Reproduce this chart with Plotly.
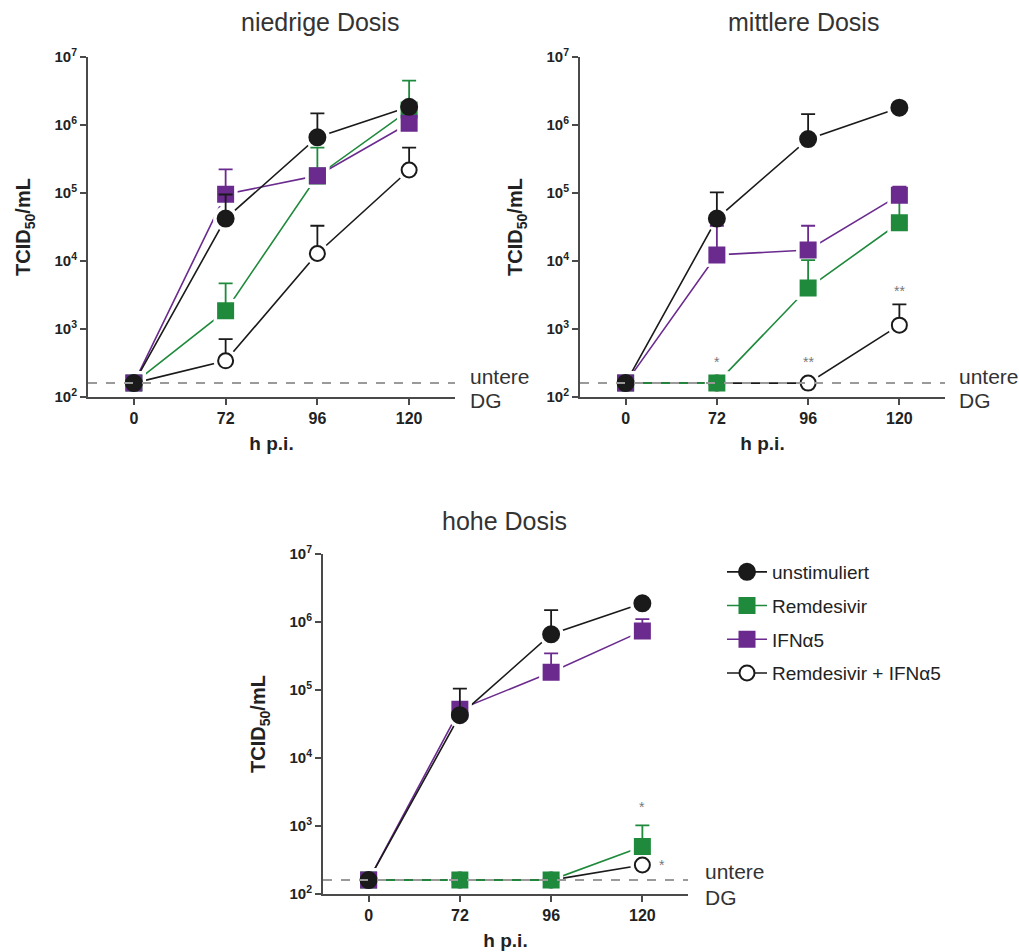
import math
import plotly.graph_objects as go

# ---- data -------------------------------------------------------------
hours = ["0", "72", "96", "120"]
pos = [0, 1, 2, 3]
lod = 160  # lower detection limit (untere DG)

series_names = ["unstimuliert", "Remdesivir", "IFNα5", "Remdesivir + IFNα5"]

# niedrige Dosis: mean values and upper SD bounds (None = no bar)
low_unstim = [160, 42000, 660000, 1850000]
low_unstim_up = [None, 95000, 1480000, None]
low_rem = [160, 1850, 178000, 1660000]
low_rem_up = [None, 4700, 465000, 4500000]
low_ifn = [160, 96000, 180000, 1060000]
low_ifn_up = [None, 223000, None, None]
low_combo = [160, 340, 12900, 218000]
low_combo_up = [None, 712, 33000, 465000]

# mittlere Dosis
mid_unstim = [160, 42000, 620000, 1800000]
mid_unstim_up = [None, 102000, 1450000, None]
mid_rem = [160, 160, 4000, 36500]
mid_rem_up = [None, None, 10300, 80000]
mid_ifn = [160, 12300, 14500, 93000]
mid_ifn_up = [None, 33000, 33000, 124000]
mid_combo = [160, 160, 160, 1140]
mid_combo_up = [None, None, None, 2300]

# hohe Dosis
high_unstim = [160, 42700, 660000, 1880000]
high_unstim_up = [None, 105000, 1500000, None]
high_rem = [160, 160, 160, 500]
high_rem_up = [None, None, None, 1020]
high_ifn = [160, 52000, 182000, 740000]
high_ifn_up = [None, None, 345000, 1100000]
high_combo = [160, 160, 160, 267]
high_combo_up = [None, None, None, None]

# significance marks: (panel, x position, y value, text)
sig_marks = [
    ("mid", 1, 330, "*"),
    ("mid", 2, 330, "**"),
    ("mid", 3, 3600, "**"),
    ("high", 3, 1900, "*"),
    ("high", 3.22, 267, "*"),
]

panel_titles = {"low": "niedrige Dosis", "mid": "mittlere Dosis", "high": "hohe Dosis"}
ytick_vals = [1e2, 1e3, 1e4, 1e5, 1e6, 1e7]
ytick_text = [f"<b>10<sup>{e}</sup></b>" for e in range(2, 8)]
xtick_text = [f"<b>{h}</b>" for h in hours]

# ---- styling ----------------------------------------------------------
W, H = 1019, 952
FONT = "Liberation Sans"
BLACK = "#1a1a1a"
GREEN = "#1f8a3c"
PURPLE = "#6a2a8e"
AXIS = "#4a4a4a"

styles = {
    "unstimuliert": dict(color=BLACK, symbol="circle", fill=BLACK, size=16),
    "Remdesivir": dict(color=GREEN, symbol="square", fill=GREEN, size=15),
    "IFNα5": dict(color=PURPLE, symbol="square", fill=PURPLE, size=15),
    "Remdesivir + IFNα5": dict(color=BLACK, symbol="circle", fill="white", size=15),
}

# pixel boxes of the plot areas, title centres and label positions
panels = {
    "low": dict(xpx=(88, 455), ypx=(57, 397), title=(320, 22), dg=(468, 377, 400),
                data=[(low_unstim, low_unstim_up), (low_rem, low_rem_up),
                      (low_ifn, low_ifn_up), (low_combo, low_combo_up)]),
    "mid": dict(xpx=(580, 945), ypx=(57, 397), title=(803, 22), dg=(957, 377, 400),
                data=[(mid_unstim, mid_unstim_up), (mid_rem, mid_rem_up),
                      (mid_ifn, mid_ifn_up), (mid_combo, mid_combo_up)]),
    "high": dict(xpx=(323, 688), ypx=(554, 894), title=(504, 521), dg=(703, 871, 897),
                 data=[(high_unstim, high_unstim_up), (high_rem, high_rem_up),
                       (high_ifn, high_ifn_up), (high_combo, high_combo_up)]),
}
# draw order: combo, rem, ifn, unstim on top
draw_order = [3, 1, 2, 0]

fig = go.Figure()
layout = dict(width=W, height=H, margin=dict(l=0, r=0, t=0, b=0),
              paper_bgcolor="white", plot_bgcolor="white", showlegend=True)
annotations = []
shapes = []
axis_ref = {}

for k, (key, p) in enumerate(panels.items()):
    suffix = "" if k == 0 else str(k + 1)
    xa, ya = "x" + suffix, "y" + suffix
    axis_ref[key] = (xa, ya)
    x0, x1 = p["xpx"][0] / W, p["xpx"][1] / W
    y0, y1 = 1 - p["ypx"][1] / H, 1 - p["ypx"][0] / H

    layout["xaxis" + suffix] = dict(
        domain=[x0, x1], anchor=ya, range=[-0.5, 3.5], automargin=False,
        tickvals=pos, ticktext=xtick_text, showgrid=False, zeroline=False,
        showline=True, linecolor=AXIS, linewidth=2, ticks="outside",
        ticklen=6, tickwidth=2, tickcolor=AXIS,
        tickfont=dict(family=FONT, size=16, color="#222"),
        title=dict(text="<b>h p.i.</b>", font=dict(family=FONT, size=19, color="#222"),
                   standoff=10),
    )
    layout["yaxis" + suffix] = dict(
        domain=[y0, y1], anchor=xa, type="log", range=[2, 7], automargin=False,
        tickvals=ytick_vals, ticktext=ytick_text, showgrid=False, zeroline=False,
        showline=True, linecolor=AXIS, linewidth=2, ticks="outside",
        ticklen=6, tickwidth=2, tickcolor=AXIS,
        tickfont=dict(family=FONT, size=15, color="#222"),
        title=dict(text="<b>TCID<sub>50</sub>/mL</b>",
                   font=dict(family=FONT, size=20, color="#222"), standoff=18),
    )

    # lower detection limit
    shapes.append(dict(type="line", xref=xa + " domain", yref=ya,
                       x0=0, x1=1, y0=lod, y1=lod,
                       line=dict(color="#9a9a9a", width=2, dash="dash")))
    dx, dy1, dy2 = p["dg"]
    annotations.append(dict(xref="paper", yref="paper", x=dx / W, y=1 - dy1 / H,
                            text="untere", showarrow=False,
                            xanchor="left", yanchor="middle",
                            font=dict(family=FONT, size=21, color="#333")))
    annotations.append(dict(xref="paper", yref="paper", x=dx / W, y=1 - dy2 / H,
                            text="DG", showarrow=False,
                            xanchor="left", yanchor="middle",
                            font=dict(family=FONT, size=21, color="#333")))
    # panel title
    tx, ty = p["title"]
    annotations.append(dict(xref="paper", yref="paper", x=tx / W, y=1 - ty / H,
                            text=panel_titles[key], showarrow=False,
                            xanchor="center", yanchor="middle",
                            font=dict(family=FONT, size=25, color="#333")))

    # connecting lines
    for i in draw_order:
        vals, _ = p["data"][i]
        st = styles[series_names[i]]
        fig.add_trace(go.Scatter(x=pos, y=vals, mode="lines", xaxis=xa, yaxis=ya,
                                 line=dict(color=st["color"], width=1.6),
                                 showlegend=False, hoverinfo="skip"))
    # white halos leave a small gap between lines and markers
    for i in draw_order:
        vals, _ = p["data"][i]
        st = styles[series_names[i]]
        fig.add_trace(go.Scatter(x=pos, y=vals, mode="markers", xaxis=xa, yaxis=ya,
                                 marker=dict(symbol=st["symbol"], size=st["size"] + 9,
                                             color="white", line=dict(width=0)),
                                 showlegend=False, hoverinfo="skip"))
    # markers with one-sided SD bars
    for i in draw_order:
        vals, up = p["data"][i]
        st = styles[series_names[i]]
        err = [(u - v) if u is not None else 0 for u, v in zip(up, vals)]
        fig.add_trace(go.Scatter(
            x=pos, y=vals, mode="markers", xaxis=xa, yaxis=ya,
            marker=dict(symbol=st["symbol"], size=st["size"], color=st["fill"],
                        line=dict(color=st["color"], width=2)),
            error_y=dict(type="data", symmetric=False, array=err,
                         arrayminus=[0] * 4, color=st["color"], thickness=1.8,
                         width=7),
            showlegend=False, name=series_names[i]))

# significance asterisks
for key, xp, yv, txt in sig_marks:
    xr, yr = axis_ref[key]
    annotations.append(dict(xref=xr, yref=yr, x=xp, y=math.log10(yv),
                            text=txt, showarrow=False,
                            font=dict(family=FONT, size=14, color="#777")))

# legend entries (line stub through marker)
for name in series_names:
    st = styles[name]
    fig.add_trace(go.Scatter(x=[None], y=[None], mode="lines+markers", name=name,
                             xaxis="x3", yaxis="y3", legendgroup=name,
                             marker=dict(symbol=st["symbol"], size=st["size"],
                                         color=st["fill"],
                                         line=dict(color=st["color"], width=2)),
                             line=dict(color=st["color"], width=1.6)))

layout["legend"] = dict(x=722 / W, y=1 - 553 / H, xanchor="left", yanchor="top",
                        bgcolor="rgba(0,0,0,0)", tracegroupgap=6,
                        itemwidth=40,
                        font=dict(family=FONT, size=19, color="#222"))
layout["annotations"] = annotations
layout["shapes"] = shapes
fig.update_layout(**layout)

fig.write_html("out.html")
